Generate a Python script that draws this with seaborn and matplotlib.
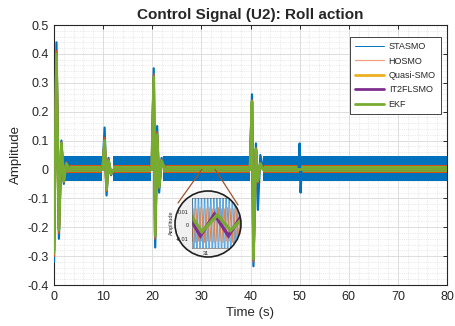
import numpy as np
import pandas as pd
import matplotlib
matplotlib.use('Agg')
import matplotlib.pyplot as plt
from matplotlib.patches import Ellipse, ConnectionPatch
from matplotlib.lines import Line2D
from matplotlib.ticker import MultipleLocator
import seaborn as sns

# DATA

series_names = ['STASMO', 'HOSMO', 'Quasi-SMO', 'IT2FLSMO', 'EKF']
colors = ['#0072BD', '#D95319', '#EDB120', '#7E2F8E', '#77AC30']

# transient part of each control signal
t_events = [0.0, 0.5, 1.0, 1.5, 2.0, 2.5, 3.2,
            9.9, 10.3, 10.7, 11.1, 11.6, 12.2,
            19.9, 20.3, 20.6, 21.0, 21.4, 21.9, 22.6,
            39.9, 40.3, 40.6, 41.1, 41.5, 42.0, 42.6,
            49.8, 50.0, 50.2, 50.4, 80.0]
stasmo_u2 = [-0.32, 0.44, -0.24, 0.10, -0.05, 0.03, 0.0,
             0.0, 0.145, -0.09, 0.04, -0.02, 0.0,
             0.0, 0.35, -0.27, 0.15, -0.08, 0.04, 0.0,
             0.0, 0.26, -0.335, 0.09, -0.14, 0.05, 0.0,
             0.0, 0.09, -0.08, 0.0, 0.0]
hosmo_u2 = [-0.30, 0.41, -0.22, 0.095, -0.045, 0.025, 0.0,
            0.0, 0.11, -0.075, 0.035, -0.018, 0.0,
            0.0, 0.33, -0.24, 0.13, -0.065, 0.035, 0.0,
            0.0, 0.24, -0.32, 0.075, -0.045, 0.022, 0.0,
            0.0, 0.0, 0.0, 0.0, 0.0]
quasi_u2 = [-0.28, 0.39, -0.20, 0.085, -0.035, 0.018, 0.0,
            0.0, 0.095, -0.065, 0.028, -0.012, 0.0,
            0.0, 0.31, -0.22, 0.11, -0.055, 0.025, 0.0,
            0.0, 0.23, -0.30, 0.065, -0.035, 0.018, 0.0,
            0.0, 0.0, 0.0, 0.0, 0.0]
it2_u2 = [-0.28, 0.395, -0.205, 0.088, -0.038, 0.019, 0.0,
          0.0, 0.098, -0.068, 0.029, -0.014, 0.0,
          0.0, 0.315, -0.225, 0.115, -0.058, 0.028, 0.0,
          0.0, 0.232, -0.305, 0.068, -0.038, 0.019, 0.0,
          0.0, 0.0, 0.0, 0.0, 0.0]
ekf_u2 = [-0.29, 0.40, -0.21, 0.09, -0.04, 0.02, 0.0,
          0.0, 0.10, -0.07, 0.03, -0.015, 0.0,
          0.0, 0.32, -0.23, 0.12, -0.06, 0.03, 0.0,
          0.0, 0.235, -0.31, 0.07, -0.04, 0.02, 0.0,
          0.0, 0.0, 0.0, 0.0, 0.0]

# chattering bands (steady part)
band_start = [1.8, 12.0, 22.2, 42.5]
band_end = [9.8, 19.7, 39.9, 80.0]
stasmo_band = [0.046, -0.040]
hosmo_band = [0.016, -0.014]
quasi_band = [0.008, -0.008]
it2_band = [0.009, -0.009]
ekf_band = [0.012, -0.010]

# zoomed window around t = 31 s
zoom_t = np.linspace(30.76, 31.64, 41)
stasmo_zoom = [0.04, -0.04, 0.04, -0.04, 0.04, -0.04, 0.04, -0.04, 0.04, -0.04,
               0.04, -0.04, 0.04, -0.04, 0.04, -0.04, 0.04, -0.04, 0.04, -0.04,
               0.04, -0.04, 0.04, -0.04, 0.04, -0.04, 0.04, -0.04, 0.04, -0.04,
               0.04, -0.04, 0.04, -0.04, 0.04, -0.04, 0.04, -0.04, 0.04, -0.04, 0.04]
hosmo_zoom = [-0.012, 0.013, -0.012, 0.012, -0.013, 0.012, -0.012, 0.013, -0.012, 0.012,
              -0.013, 0.012, -0.012, 0.013, -0.012, 0.012, -0.013, 0.012, -0.012, 0.013,
              -0.012, 0.012, -0.013, 0.012, -0.012, 0.013, -0.012, 0.012, -0.013, 0.012,
              -0.012, 0.013, -0.012, 0.012, -0.013, 0.012, -0.012, 0.013, -0.012, 0.012, -0.013]
it2_zoom_t = [30.76, 30.92, 31.12, 31.32, 31.52, 31.64]
it2_zoom = [0.006, -0.008, 0.008, -0.008, 0.008, 0.003]
ekf_zoom_t = [30.76, 30.94, 31.16, 31.35, 31.57, 31.64]
ekf_zoom = [0.009, -0.005, 0.0075, -0.004, 0.0075, 0.005]

# PLOT

sns.set_style('white')
plt.rcParams['font.family'] = ['Liberation Sans', 'DejaVu Sans']
plt.rcParams['axes.unicode_minus'] = False

W, H = 455, 326
fig = plt.figure(figsize=(W / 100, H / 100), dpi=100)
ax = fig.add_axes([54 / W, 1 - 285 / H, 393 / W, 260 / H])

# bands
bands = [stasmo_band, hosmo_band, quasi_band, it2_band, ekf_band]
for band, c in zip(bands, colors):
    for s, e in zip(band_start, band_end):
        ax.fill_between([s, e], [band[0], band[0]], [band[1], band[1]],
                        color=c, linewidth=0, zorder=2)

# transients
df = pd.DataFrame({'t': t_events, 'STASMO': stasmo_u2, 'HOSMO': hosmo_u2,
                   'Quasi-SMO': quasi_u2, 'IT2FLSMO': it2_u2, 'EKF': ekf_u2})
widths = [1.6, 1.4, 1.8, 1.8, 2.0]
for name, c, lw in zip(series_names, colors, widths):
    sns.lineplot(data=df, x='t', y=name, color=c, linewidth=lw, sort=False,
                 estimator=None, ax=ax, zorder=3)

ax.set_xlim(0, 80)
ax.set_ylim(-0.4, 0.5)
ax.xaxis.set_major_locator(MultipleLocator(10))
ax.yaxis.set_major_locator(MultipleLocator(0.1))
ax.xaxis.set_minor_locator(MultipleLocator(2))
ax.yaxis.set_minor_locator(MultipleLocator(0.02))
ax.yaxis.set_major_formatter(plt.FuncFormatter(lambda v, p: '0' if abs(v) < 1e-9 else f'{v:.1f}'))
ax.grid(which='major', color='#d8d8d8', linewidth=0.6, linestyle='-')
ax.grid(which='minor', color='#d8d8d8', linewidth=0.5, linestyle=':')
ax.set_axisbelow(True)
ax.tick_params(which='major', direction='in', length=3, width=0.7, top=True, right=True,
               labelsize=9, colors='#262626', pad=4)
ax.tick_params(which='minor', length=0)
for sp in ax.spines.values():
    sp.set_color('#262626')
    sp.set_linewidth(0.8)
ax.set_xlabel('Time (s)', fontsize=9.5, color='#262626', labelpad=3)
ax.set_ylabel('Amplitude', fontsize=9.5, color='#262626', labelpad=4)
ax.set_title('Control Signal (U2): Roll action', fontsize=11, fontweight='bold', pad=4)

handles = [Line2D([], [], color=colors[0], linewidth=0.7),
           Line2D([], [], color='#F0A080', linewidth=0.9),
           Line2D([], [], color=colors[2], linewidth=2),
           Line2D([], [], color=colors[3], linewidth=2),
           Line2D([], [], color=colors[4], linewidth=2)]
leg = ax.legend(handles, series_names, loc='upper right', bbox_to_anchor=(0.985, 0.955),
                borderaxespad=0, fontsize=6.5, handlelength=3.2, handletextpad=0.5,
                labelspacing=0.6, borderpad=0.6, fancybox=False, framealpha=1)
leg.get_frame().set_edgecolor('#262626')
leg.get_frame().set_linewidth(0.6)

# magnifier circle
cx, cy, r = 208, 224, 33
circ = Ellipse((cx / W, 1 - cy / H), 2 * r / W, 2 * r / H, transform=fig.transFigure,
               facecolor='#f0f0f0', edgecolor='none', zorder=1)
fig.add_artist(circ)
rim = Ellipse((cx / W, 1 - cy / H), 2 * r / W, 2 * r / H, transform=fig.transFigure,
              facecolor='none', edgecolor='#202020', linewidth=1.2, zorder=5)
fig.add_artist(rim)

for (x0, y0), (x1, y1) in [((30.1, 0.0), (178, 203)), ((32.8, 0.0), (238, 205))]:
    con = ConnectionPatch(xyA=(x0, y0), coordsA=ax.transData,
                          xyB=(x1 / W, 1 - y1 / H), coordsB=fig.transFigure,
                          color='#A0522D', linewidth=0.9)
    fig.add_artist(con)

axin = fig.add_axes([192 / W, 1 - 248 / H, 56 / W, 50 / H], zorder=3)
axin.patch.set_facecolor('white')
axin.plot(zoom_t, stasmo_zoom, color='#4a9ad6', linewidth=0.6)
axin.plot(zoom_t, hosmo_zoom, color='#E0804A', linewidth=0.6)
axin.plot(it2_zoom_t, it2_zoom, color=colors[3], linewidth=2.4, solid_joinstyle='miter')
axin.plot(ekf_zoom_t, ekf_zoom, color=colors[4], linewidth=2.4, solid_joinstyle='miter')
axin.set_xlim(30.8, 31.6)
axin.set_ylim(-0.017, 0.02)
axin.set_xticks([31])
axin.set_yticks([-0.01, 0, 0.01])
axin.set_yticklabels(['-0.01', '0', '0.01'])
axin.tick_params(labelsize=4, length=1.5, width=0.4, pad=1)
axin.set_ylabel('Amplitude', fontsize=4, labelpad=1)
for sp in axin.spines.values():
    sp.set_linewidth(0.4)
    sp.set_color('#555555')
axin.patch.set_clip_path(circ)
for art in axin.lines + list(axin.spines.values()):
    art.set_clip_path(circ)

fig.savefig('out.png', dpi=100)
